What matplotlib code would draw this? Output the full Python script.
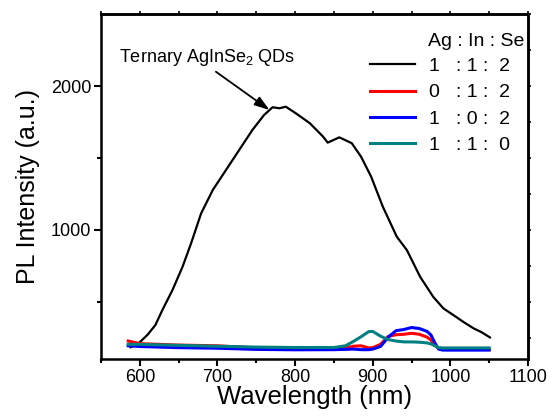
import matplotlib
matplotlib.use("Agg")
import matplotlib.pyplot as plt
from matplotlib.ticker import MultipleLocator

plt.rcParams["font.family"] = ["Liberation Sans", "DejaVu Sans"]
plt.rcParams["mathtext.fontset"] = "custom"
plt.rcParams["mathtext.rm"] = "Liberation Sans"
plt.rcParams["mathtext.default"] = "regular"

# 1:1:2 ternary sample
wl_ternary = [588, 599, 610, 620, 629, 642, 655, 666, 679, 694, 711, 728, 745, 760,
              771, 780, 788, 801, 819, 836, 842, 857, 873, 885, 898, 913, 931, 944,
              961, 978, 991, 1004, 1017, 1030, 1040, 1051]
pl_ternary = [185, 215, 272, 339, 443, 582, 744, 907, 1116, 1278, 1417, 1556, 1695, 1799,
              1853, 1846, 1857, 1811, 1742, 1649, 1607, 1644, 1603, 1509, 1370, 1162, 953, 860,
              675, 535, 455, 408, 360, 316, 290, 253]

# control samples share one wavelength grid
wl_ctrl = [585, 600, 650, 700, 750, 800, 850, 865, 875, 885, 895, 900, 910, 920, 930,
           940, 950, 960, 970, 975, 980, 985, 990, 1000, 1025, 1050]
pl_no_ag = [228, 210, 200, 195, 180, 175, 175, 180, 192, 195, 180, 182, 205, 260, 272,
            275, 282, 275, 255, 235, 200, 175, 170, 170, 170, 170]
pl_no_in = [195, 190, 182, 178, 170, 167, 168, 170, 172, 168, 168, 172, 190, 255, 300,
            308, 322, 315, 295, 270, 215, 172, 165, 165, 165, 165]
pl_no_se = [205, 205, 198, 192, 186, 183, 183, 195, 225, 258, 294, 295, 262, 238, 228,
            222, 222, 220, 215, 208, 195, 182, 180, 180, 180, 180]

labels = ["1   : 1 :  2", "0   : 1 :  2", "1   : 0 :  2", "1   : 1 :  0"]
colors = ["black", "#ff0000", "#0000ff", "#008080"]

fig = plt.figure(figsize=(5.52, 4.17), dpi=100)
ax = fig.add_axes([0.183, 0.138, 0.7735, 0.828])

ax.plot(wl_ternary, pl_ternary, color=colors[0], lw=1.6, label=labels[0])
ax.plot(wl_ctrl, pl_no_ag, color=colors[1], lw=2.2, label=labels[1])
ax.plot(wl_ctrl, pl_no_in, color=colors[2], lw=2.2, label=labels[2])
ax.plot(wl_ctrl, pl_no_se, color=colors[3], lw=2.2, label=labels[3])

ax.set_xlim(550, 1100)
ax.set_ylim(100, 2500)
ax.xaxis.set_major_locator(MultipleLocator(100))
ax.xaxis.set_minor_locator(MultipleLocator(50))
ax.set_yticks([1000, 2000])
ax.set_yticks([500, 1500], minor=True)
ax.set_xticks([600, 700, 800, 900, 1000, 1100])

for side in ax.spines.values():
    side.set_linewidth(1.8)
ax.tick_params(which="major", direction="out", length=5, width=1.5, labelsize=13, pad=2)
ax.tick_params(which="minor", direction="out", length=3, width=1.5)

top = ax.secondary_xaxis("top")
top.xaxis.set_major_locator(MultipleLocator(50))
top.tick_params(direction="out", length=2.5, width=1.2, labeltop=False)
right = ax.secondary_yaxis("right")
right.yaxis.set_major_locator(MultipleLocator(250))
right.tick_params(direction="out", length=2.5, width=1.2, labelright=False)
for sec in (top, right):
    for side in sec.spines.values():
        side.set_linewidth(1.8)

ax.set_xlabel("Wavelength (nm)", fontsize=18.5, labelpad=-1)
ax.set_ylabel("PL Intensity (a.u.)", fontsize=18, labelpad=8)

ax.annotate("", xy=(767, 1834), xytext=(698, 2100),
            arrowprops=dict(arrowstyle="-|>,head_length=0.9,head_width=0.3",
                            color="black", lw=1.3, shrinkA=0, shrinkB=0))
ax.text(573, 2170, "Ternary AgInSe$_2$ QDs", fontsize=13, ha="left", va="baseline")

ax.text(0.878, 0.908, "Ag : In : Se", fontsize=14, ha="center", va="baseline",
        transform=ax.transAxes)
ax.legend(loc="upper left", bbox_to_anchor=(0.630, 0.875),
          frameon=False, fontsize=14, handlelength=2.3, handletextpad=0.75,
          labelspacing=0.45, borderpad=0, borderaxespad=0)

fig.savefig("out.png", dpi=100)
